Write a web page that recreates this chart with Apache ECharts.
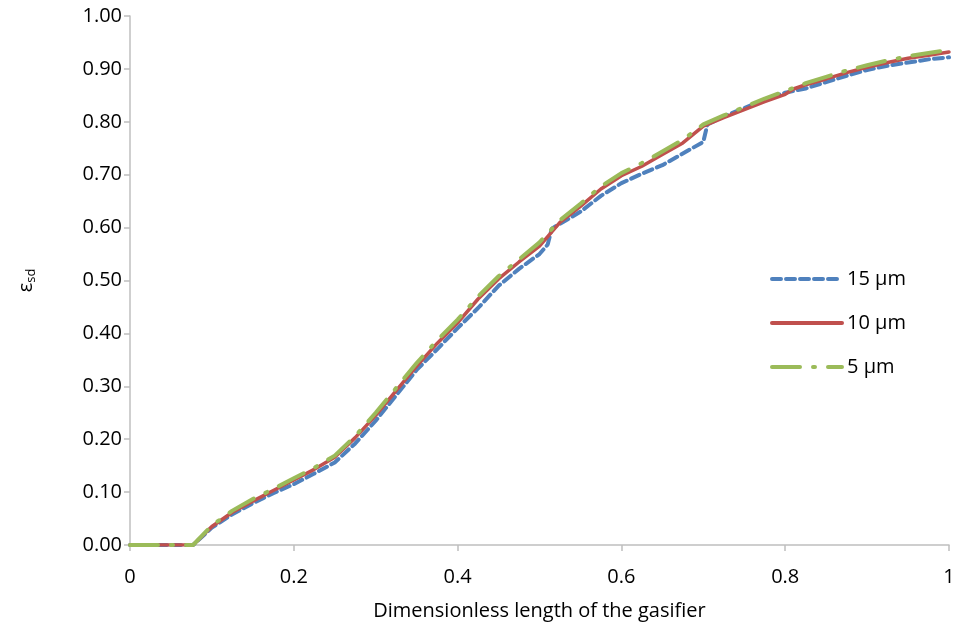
<!DOCTYPE html>
<html>
<head>
<meta charset="utf-8">
<script src="https://cdn.jsdelivr.net/npm/echarts@6/dist/echarts.min.js"></script>
<style>html,body{margin:0;padding:0;background:#fff}#c{width:959px;height:636px}</style>
</head>
<body>
<div id="c"></div>
<script>
var seriesNames = ['15 μm', '10 μm', '5 μm'];
var xTicks = ['0', '0.2', '0.4', '0.6', '0.8', '1'];

var x15 = [0, 0.025, 0.05, 0.077, 0.1, 0.125, 0.15, 0.175, 0.2, 0.225, 0.25, 0.275, 0.3, 0.325, 0.35, 0.375, 0.4, 0.425, 0.45, 0.475, 0.5, 0.51, 0.515, 0.55, 0.575, 0.6, 0.625, 0.65, 0.675, 0.7, 0.705, 0.725, 0.75, 0.775, 0.8, 0.825, 0.85, 0.875, 0.9, 0.925, 0.95, 0.975, 1.0];
var y15 = [0, 0, 0, 0, 0.033, 0.058, 0.079, 0.098, 0.115, 0.135, 0.156, 0.192, 0.235, 0.283, 0.331, 0.37, 0.41, 0.448, 0.49, 0.522, 0.55, 0.568, 0.598, 0.63, 0.66, 0.684, 0.702, 0.718, 0.74, 0.762, 0.795, 0.81, 0.826, 0.842, 0.855, 0.863, 0.875, 0.887, 0.898, 0.906, 0.912, 0.918, 0.922];

var x10 = [0, 0.025, 0.05, 0.077, 0.1, 0.125, 0.15, 0.175, 0.2, 0.225, 0.25, 0.275, 0.3, 0.325, 0.35, 0.375, 0.4, 0.425, 0.45, 0.475, 0.5, 0.525, 0.55, 0.575, 0.6, 0.625, 0.65, 0.675, 0.7, 0.725, 0.75, 0.775, 0.8, 0.81, 0.825, 0.85, 0.875, 0.9, 0.925, 0.95, 0.975, 1.0];
var y10 = [0, 0, 0, 0, 0.035, 0.062, 0.083, 0.103, 0.123, 0.143, 0.166, 0.203, 0.245, 0.292, 0.338, 0.381, 0.42, 0.465, 0.503, 0.535, 0.565, 0.61, 0.64, 0.673, 0.698, 0.716, 0.738, 0.76, 0.792, 0.808, 0.823, 0.838, 0.852, 0.862, 0.87, 0.881, 0.893, 0.903, 0.912, 0.92, 0.926, 0.932];

var x5 = [0, 0.025, 0.05, 0.077, 0.1, 0.125, 0.15, 0.175, 0.2, 0.225, 0.25, 0.275, 0.3, 0.325, 0.35, 0.375, 0.4, 0.425, 0.45, 0.475, 0.5, 0.525, 0.55, 0.575, 0.6, 0.625, 0.65, 0.675, 0.7, 0.725, 0.75, 0.775, 0.8, 0.825, 0.85, 0.875, 0.9, 0.925, 0.95, 0.975, 1.0];
var y5 = [0, 0, 0, 0, 0.037, 0.065, 0.087, 0.106, 0.126, 0.146, 0.169, 0.206, 0.25, 0.297, 0.344, 0.387, 0.426, 0.47, 0.508, 0.54, 0.572, 0.614, 0.645, 0.678, 0.703, 0.722, 0.744, 0.766, 0.795, 0.812, 0.828, 0.844, 0.858, 0.873, 0.885, 0.897, 0.907, 0.916, 0.924, 0.93, 0.936];

function pairs(xs, ys) { return xs.map(function (v, i) { return [v, ys[i]]; }); }

var FONT = 'Open Sans';
var chart = echarts.init(document.getElementById('c'), null, { renderer: 'canvas' });
chart.setOption({
  backgroundColor: '#ffffff',
  animation: false,
  textStyle: { fontFamily: FONT },
  grid: { left: 130, right: 10, top: 16, bottom: 91, containLabel: false },
  legend: {
    orient: 'vertical',
    left: 765,
    top: 264,
    itemWidth: 70,
    itemHeight: 14,
    itemGap: 24,
    itemStyle: { opacity: 0 },
    lineStyle: { width: 4 },
    textStyle: { fontFamily: FONT, fontSize: 20, color: '#000' },
    data: seriesNames
  },
  xAxis: {
    type: 'value',
    min: 0, max: 1, interval: 0.2,
    name: 'Dimensionless length of the gasifier',
    nameLocation: 'middle',
    nameGap: 56,
    nameTextStyle: { fontFamily: FONT, fontSize: 20, color: '#000' },
    axisLine: { show: true, lineStyle: { color: '#BFBFBF', width: 1.5 } },
    axisTick: { show: true, inside: false, length: 6, lineStyle: { color: '#BFBFBF', width: 1.5 } },
    splitLine: { show: false },
    axisLabel: {
      fontFamily: FONT, fontSize: 20, color: '#000', margin: 22,
      formatter: function (v) { var i = Math.round(v / 0.2); return xTicks[i]; }
    }
  },
  yAxis: {
    type: 'value',
    min: 0, max: 1, interval: 0.1,
    name: '{e|ε}{s|sd}',
    nameLocation: 'middle',
    nameRotate: 90,
    nameGap: 92,
    nameTextStyle: {
      rich: {
        e: { fontFamily: FONT, fontSize: 20, color: '#000' },
        s: { fontFamily: FONT, fontSize: 13, color: '#000', padding: [10, 0, 0, 0] }
      }
    },
    axisLine: { show: true, lineStyle: { color: '#BFBFBF', width: 1.5 } },
    axisTick: { show: true, inside: false, length: 6, lineStyle: { color: '#BFBFBF', width: 1.5 } },
    splitLine: { show: false },
    axisLabel: {
      fontFamily: FONT, fontSize: 20, color: '#000', margin: 8,
      formatter: function (v) { return v.toFixed(2); }
    }
  },
  series: [
    {
      name: seriesNames[0], type: 'line', showSymbol: false, symbol: 'none', z: 1,
      data: pairs(x15, y15),
      lineStyle: { color: '#4F81BD', width: 4, type: [9, 5], cap: 'round' },
      itemStyle: { color: '#4F81BD' }
    },
    {
      name: seriesNames[1], type: 'line', showSymbol: false, symbol: 'none', z: 2,
      data: pairs(x10, y10),
      lineStyle: { color: '#C0504D', width: 3.5, type: 'solid', cap: 'round' },
      itemStyle: { color: '#C0504D' }
    },
    {
      name: seriesNames[2], type: 'line', showSymbol: false, symbol: 'none', z: 3,
      data: pairs(x5, y5),
      lineStyle: { color: '#9BBB59', width: 4, type: [28, 13, 2, 13], cap: 'round' },
      itemStyle: { color: '#9BBB59' }
    }
  ]
});
</script>
</body>
</html>
